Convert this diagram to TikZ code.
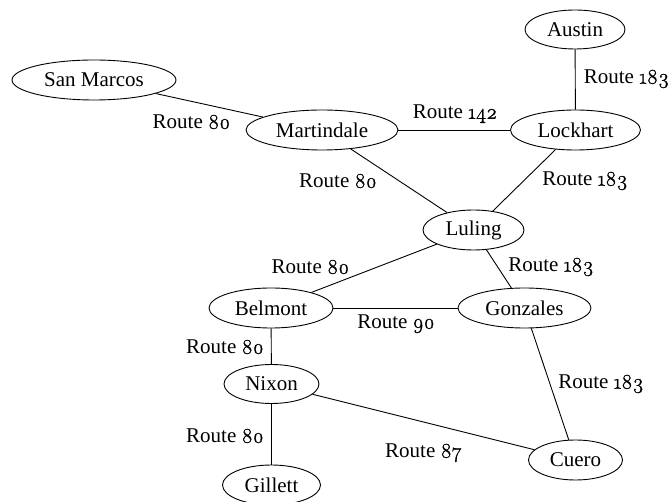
\documentclass[tikz,border=0pt]{standalone}
\usepackage{fontspec}
\setmainfont{Liberation Serif}
\newfontfamily\osf{Latin Modern Roman}[Numbers=OldStyle, FakeBold=1.2]
\usetikzlibrary{shapes.geometric}
\newcommand{\rt}[1]{Route {\osf #1}}
\begin{document}
\begin{tikzpicture}[x=1pt,y=-1pt,
  town/.style={draw, ellipse, inner sep=0pt, line width=0.9pt,
    font=\fontsize{21}{25}\selectfont},
  road/.style={line width=0.9pt},
  lbl/.style={inner sep=0pt, font=\fontsize{21}{25}\selectfont}]
\useasboundingbox (0,0) rectangle (670,502);
% towns
\node[town, minimum width=164pt, minimum height=40pt] (sanmarcos) at (94,80) {San Marcos};
\node[town, minimum width=152pt, minimum height=40pt] (martindale) at (322,130) {Martindale};
\node[town, minimum width=100pt, minimum height=39pt] (austin) at (575,29.5) {Austin};
\node[town, minimum width=130pt, minimum height=40pt] (lockhart) at (575.5,130) {Lockhart};
\node[town, minimum width=101pt, minimum height=40pt] (luling) at (473.5,230) {Luling};
\node[town, minimum width=124pt, minimum height=40pt] (belmont) at (271,308) {Belmont};
\node[town, minimum width=133pt, minimum height=40pt] (gonzales) at (524.5,308) {Gonzales};
\node[town, minimum width=95pt, minimum height=39pt] (nixon) at (271.5,384) {Nixon};
\node[town, minimum width=98pt, minimum height=40pt] (gillett) at (271.5,485) {Gillett};
\node[town, minimum width=94pt, minimum height=40pt] (cuero) at (575.5,460) {Cuero};
% roads
\draw[road] (sanmarcos) -- (martindale);
\draw[road] (martindale) -- (lockhart);
\draw[road] (austin) -- (lockhart);
\draw[road] (martindale) -- (luling);
\draw[road] (lockhart) -- (luling);
\draw[road] (luling) -- (belmont);
\draw[road] (luling) -- (gonzales);
\draw[road] (belmont) -- (gonzales);
\draw[road] (belmont) -- (nixon);
\draw[road] (nixon) -- (gillett);
\draw[road] (nixon) -- (cuero);
\draw[road] (gonzales) -- (cuero);
% route labels
\node[lbl] (l1) at (191.5,122) {\rt{80}};
\node[lbl] (l2) at (455,114) {\rt{142}};
\node[lbl] (l3) at (626.5,79) {\rt{183}};
\node[lbl] (l4) at (338,181) {\rt{80}};
\node[lbl] (l5) at (585,181) {\rt{183}};
\node[lbl] (l6) at (310.5,267) {\rt{80}};
\node[lbl] (l7) at (551,267) {\rt{183}};
\node[lbl] (l8) at (396,324) {\rt{90}};
\node[lbl] (l9) at (225,347) {\rt{80}};
\node[lbl] (l10) at (225,436) {\rt{80}};
\node[lbl] (l11) at (423.5,453) {\rt{87}};
\node[lbl] (l12) at (601,384) {\rt{183}};
\end{tikzpicture}
\end{document}
